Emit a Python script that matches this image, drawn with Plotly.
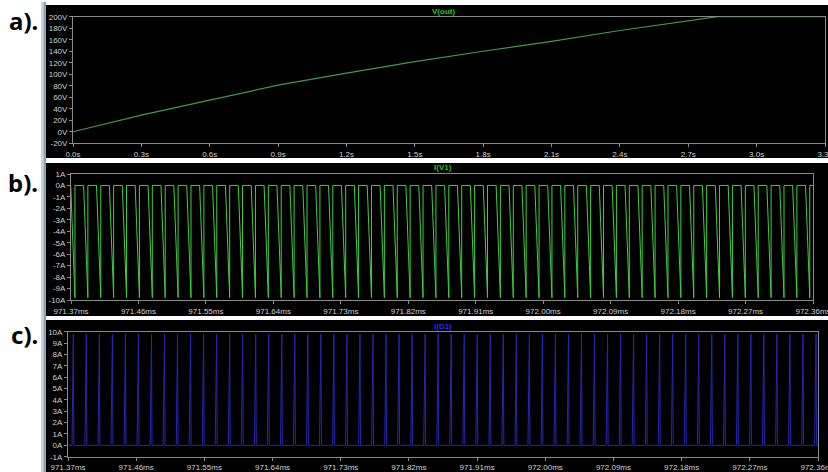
import plotly.graph_objects as go

W, H = 828, 472

# ---------------- data ----------------
# a) V(out) vs time (s)
a_time = [0.0, 0.3, 0.6, 0.9, 1.2, 1.5, 1.8, 2.1, 2.4, 2.7, 2.83, 3.0, 3.3]
a_volt = [0.0, 29, 55, 81, 102, 122, 140, 157, 176, 193, 200, 200, 200]
a_xticks = [0.0, 0.3, 0.6, 0.9, 1.2, 1.5, 1.8, 2.1, 2.4, 2.7, 3.0, 3.3]
a_xlabels = ["0.0s", "0.3s", "0.6s", "0.9s", "1.2s", "1.5s", "1.8s", "2.1s", "2.4s", "2.7s", "3.0s", "3.3s"]
a_yticks = [200, 180, 160, 140, 120, 100, 80, 60, 40, 20, 0, -20]
a_ylabels = ["200V", "180V", "160V", "140V", "120V", "100V", "80V", "60V", "40V", "20V", "0V", "-20V"]

# b), c) switching waveforms (time in ms)
ms_xticks = [971.37, 971.46, 971.55, 971.64, 971.73, 971.82, 971.91, 972.00, 972.09, 972.18, 972.27, 972.36]
ms_xlabels = ["971.37ms", "971.46ms", "971.55ms", "971.64ms", "971.73ms", "971.82ms",
              "971.91ms", "972.00ms", "972.09ms", "972.18ms", "972.27ms", "972.36ms"]
first_switch_off_ms = 971.3753
period_ms = 0.0172
n_cycles = 59
# one switching cycle, as fraction of period relative to switch-off instant
b_cycle_frac = [-0.33, 0.0, 0.0, 0.67]
b_cycle_amp = [0.0, -9.8, 0.0, 0.0]
c_cycle_frac = [0.0, 0.10, 0.14, 0.99]
c_cycle_amp = [0.0, 9.8, 0.0, 0.0]
b_yticks = [1, 0, -1, -2, -3, -4, -5, -6, -7, -8, -9, -10]
b_ylabels = ["1A", "0A", "-1A", "-2A", "-3A", "-4A", "-5A", "-6A", "-7A", "-8A", "-9A", "-10A"]
c_yticks = [10, 9, 8, 7, 6, 5, 4, 3, 2, 1, 0, -1]
c_ylabels = ["10A", "9A", "8A", "7A", "6A", "5A", "4A", "3A", "2A", "1A", "0A", "-1A"]


def build(frac, amp):
    xs, ys = [], []
    for k in range(-1, n_cycles):
        t_off = first_switch_off_ms + k * period_ms
        for f, v in zip(frac, amp):
            xs.append(t_off + f * period_ms)
            ys.append(v)
    return xs, ys


b_x, b_y = build(b_cycle_frac, b_cycle_amp)
c_x, c_y = build(c_cycle_frac, c_cycle_amp)

# ---------------- figure ----------------
def px(x):
    return x / W


def py(y):
    return 1 - y / H


fig = go.Figure()
fig.add_trace(go.Scatter(x=a_time, y=a_volt, mode="lines", line=dict(color="#46964a", width=1.2),
                         xaxis="x", yaxis="y", hoverinfo="skip", cliponaxis=False))
fig.add_trace(go.Scatter(x=b_x, y=b_y, mode="lines", line=dict(color="#3fcf3f", width=1),
                         xaxis="x2", yaxis="y2", hoverinfo="skip"))
fig.add_trace(go.Scatter(x=c_x, y=c_y, mode="lines", line=dict(color="#2626b0", width=1),
                         xaxis="x3", yaxis="y3", hoverinfo="skip"))

tickfont = dict(family="Liberation Sans", size=8, color="#cfcfcf")
ax_common = dict(showgrid=False, zeroline=False, showline=True, linecolor="#8a8a8a", linewidth=1,
                 mirror=True, ticks="outside", ticklen=3, tickcolor="#8a8a8a", tickfont=tickfont,
                 automargin=False, ticklabeloverflow="allow", layer="below traces")


def xax(domain, anchor, rng, vals, labels):
    d = dict(ax_common)
    d.update(domain=[px(domain[0]), px(domain[1])], anchor=anchor, range=rng,
             tickmode="array", tickvals=vals, ticktext=labels)
    return d


def yax(domain, anchor, rng, vals, labels):
    d = dict(ax_common)
    d.update(domain=[py(domain[1]), py(domain[0])], anchor=anchor, range=rng,
             tickmode="array", tickvals=vals, ticktext=labels)
    return d


layout = dict(
    width=W, height=H, margin=dict(l=0, r=0, t=0, b=0, pad=0), autosize=False,
    paper_bgcolor="white", plot_bgcolor="black", showlegend=False,
    xaxis=xax((73, 825), "y", [0, 3.3], a_xticks, a_xlabels),
    yaxis=yax((16.7, 143.3), "x", [-20, 200], a_yticks, a_ylabels),
    xaxis2=xax((71, 813), "y2", [971.37, 972.36], ms_xticks, ms_xlabels),
    yaxis2=yax((174, 300), "x2", [-10, 1], b_yticks, b_ylabels),
    xaxis3=xax((68, 818), "y3", [971.37, 972.36], ms_xticks, ms_xlabels),
    yaxis3=yax((331.7, 456.7), "x3", [-1, 10], c_yticks, c_ylabels),
)

shapes = []
# window strip on the left
shapes.append(dict(type="rect", xref="paper", yref="paper", x0=px(41), x1=px(43.5), y0=0, y1=py(2),
                   fillcolor="#c9d3de", line=dict(width=0), layer="below"))
shapes.append(dict(type="rect", xref="paper", yref="paper", x0=px(43.5), x1=px(46), y0=0, y1=py(2),
                   fillcolor="#8e9fb2", line=dict(width=0), layer="below"))
# black panels
for (y0, y1) in [(5, 158), (163, 316), (320, 472)]:
    shapes.append(dict(type="rect", xref="paper", yref="paper", x0=px(46), x1=1, y0=py(y1), y1=py(y0),
                       fillcolor="black", line=dict(width=0), layer="below"))
layout["shapes"] = shapes

ann = []
title_font = dict(family="Liberation Sans", size=8)
for txt, y, col in [("V(out)", 11, "#22c822"), ("I(V1)", 168, "#22c822"), ("I(D1)", 326, "#2a2ae0")]:
    ann.append(dict(text="<b>%s</b>" % txt, x=px(443), y=py(y), xref="paper", yref="paper",
                    showarrow=False, xanchor="center", yanchor="middle",
                    font=dict(title_font, color=col)))
for txt, y in [("a).", 21), ("b).", 182), ("c).", 334)]:
    ann.append(dict(text="<b>%s</b>" % txt, x=px(40), y=py(y), xref="paper", yref="paper",
                    showarrow=False, xanchor="right", yanchor="middle",
                    font=dict(family="Noto Sans", size=24, color="black")))
layout["annotations"] = ann

fig.update_layout(**layout)
fig.write_html("out.html", config={"displayModeBar": False},
               post_script="document.body.style.margin='0px';")
